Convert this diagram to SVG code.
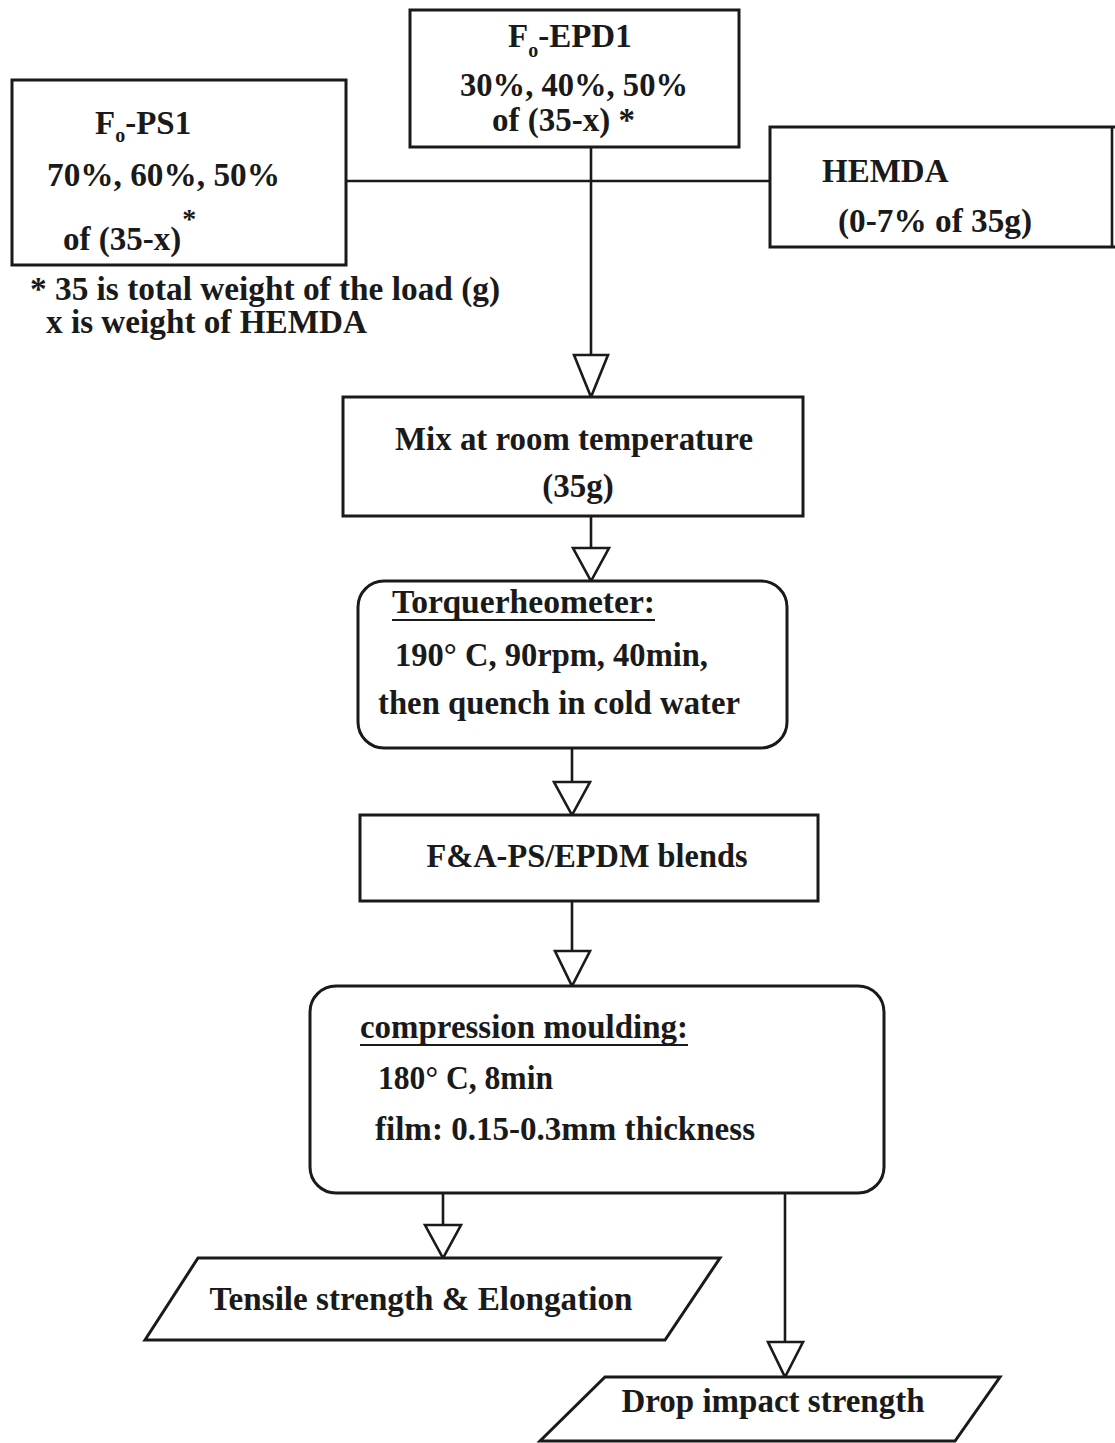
<svg xmlns="http://www.w3.org/2000/svg" width="1115" height="1443" viewBox="0 0 1115 1443">
  <style>
    .box { fill: #fff; stroke: #1a1a1a; stroke-width: 3; }
    .edge { fill: none; stroke: #1a1a1a; stroke-width: 2.6; }
    .head { fill: #fff; stroke: #1a1a1a; stroke-width: 2.6; stroke-linejoin: miter; }
    text { font-family: "Liberation Serif", "Times New Roman", serif; font-weight: bold; font-size: 33px; fill: #1a1a1a; }
    .mid { text-anchor: middle; }
    .sub { font-size: 20px; }
    .star { font-size: 28px; }
    .ul { stroke: #1a1a1a; stroke-width: 2.2; }
  </style>
  <rect width="1115" height="1443" fill="#fff"/>

  <!-- connectors -->
  <g id="connectors">
    <line class="edge" x1="346" y1="181" x2="770" y2="181"/>
    <line class="edge" x1="591" y1="147" x2="591" y2="355"/>
    <polygon class="head" points="574,355 608,355 591,397"/>
    <line class="edge" x1="591" y1="516" x2="591" y2="548"/>
    <polygon class="head" points="573,548 609,548 591,581"/>
    <line class="edge" x1="572" y1="748" x2="572" y2="782"/>
    <polygon class="head" points="554,782 590,782 572,815"/>
    <line class="edge" x1="572" y1="901" x2="572" y2="951"/>
    <polygon class="head" points="555,951 590,951 572,986"/>
    <line class="edge" x1="443" y1="1193" x2="443" y2="1225"/>
    <polygon class="head" points="425,1225 461,1225 443,1258"/>
    <line class="edge" x1="785" y1="1193" x2="785" y2="1342"/>
    <polygon class="head" points="768,1342 803,1342 785,1377"/>
  </g>

  <!-- F0-PS1 feed -->
  <g id="node-ps">
    <rect class="box" x="12" y="80" width="334" height="185"/>
    <text x="95" y="134">F<tspan class="sub" dx="0" dy="8">o</tspan><tspan dx="0" dy="-8">-PS1</tspan></text>
    <text x="47" y="186" textLength="233" lengthAdjust="spacingAndGlyphs">70%, 60%, 50%</text>
    <text x="63" y="250">of (35-x)<tspan class="star" dx="1" dy="-22">*</tspan></text>
  </g>

  <!-- footnote -->
  <g id="note">
    <text x="30" y="300" textLength="470" lengthAdjust="spacingAndGlyphs">* 35 is total weight of the load (g)</text>
    <text x="46" y="333" textLength="321" lengthAdjust="spacingAndGlyphs">x is weight of HEMDA</text>
  </g>

  <!-- F0-EPD1 feed -->
  <g id="node-epd">
    <rect class="box" x="410" y="10" width="329" height="137"/>
    <text x="508" y="47">F<tspan class="sub" dx="0" dy="10">o</tspan><tspan dx="0" dy="-10">-EPD1</tspan></text>
    <text x="460" y="96" textLength="228" lengthAdjust="spacingAndGlyphs">30%, 40%, 50%</text>
    <text x="492" y="131">of (35-x)  *</text>
  </g>

  <!-- HEMDA -->
  <g id="node-hemda">
    <path class="box" d="M1115,127 H770 V247 H1115"/>
    <line class="edge" x1="1112" y1="127" x2="1112" y2="247"/>
    <text x="822" y="182">HEMDA</text>
    <text x="838" y="232" textLength="194" lengthAdjust="spacingAndGlyphs">(0-7% of 35g)</text>
  </g>

  <!-- mixing -->
  <g id="node-mix">
    <rect class="box" x="343" y="397" width="460" height="119"/>
    <text class="mid" x="574" y="450" textLength="358" lengthAdjust="spacingAndGlyphs">Mix at room temperature</text>
    <text class="mid" x="578" y="497">(35g)</text>
  </g>

  <!-- torque rheometer -->
  <g id="node-torque">
    <rect class="box" x="358" y="581" width="429" height="167" rx="26"/>
    <text x="392" y="613" textLength="263" lengthAdjust="spacingAndGlyphs">Torquerheometer:</text>
    <line class="ul" x1="392" y1="620" x2="655" y2="620"/>
    <text x="395" y="666" textLength="313" lengthAdjust="spacingAndGlyphs">190° C, 90rpm, 40min,</text>
    <text x="378" y="714" textLength="362" lengthAdjust="spacingAndGlyphs">then quench in cold water</text>
  </g>

  <!-- blends -->
  <g id="node-blends">
    <rect class="box" x="360" y="815" width="458" height="86"/>
    <text class="mid" x="587" y="867" textLength="321" lengthAdjust="spacingAndGlyphs">F&amp;A-PS/EPDM blends</text>
  </g>

  <!-- compression moulding -->
  <g id="node-moulding">
    <rect class="box" x="310" y="986" width="574" height="207" rx="26"/>
    <text x="360" y="1038" textLength="328" lengthAdjust="spacingAndGlyphs">compression moulding:</text>
    <line class="ul" x1="360" y1="1045" x2="688" y2="1045"/>
    <text x="378" y="1089" textLength="175" lengthAdjust="spacingAndGlyphs">180° C, 8min</text>
    <text x="375" y="1140" textLength="380" lengthAdjust="spacingAndGlyphs">film: 0.15-0.3mm thickness</text>
  </g>

  <!-- outputs -->
  <g id="node-tensile">
    <polygon class="box" points="198,1258 720,1258 665,1340 145,1340"/>
    <text class="mid" x="421" y="1310" textLength="423" lengthAdjust="spacingAndGlyphs">Tensile strength &amp; Elongation</text>
  </g>

  <g id="node-impact">
    <polygon class="box" points="605,1377 1000,1377 955,1441 540,1441"/>
    <text class="mid" x="773" y="1412" textLength="303" lengthAdjust="spacingAndGlyphs">Drop impact strength</text>
  </g>
</svg>
